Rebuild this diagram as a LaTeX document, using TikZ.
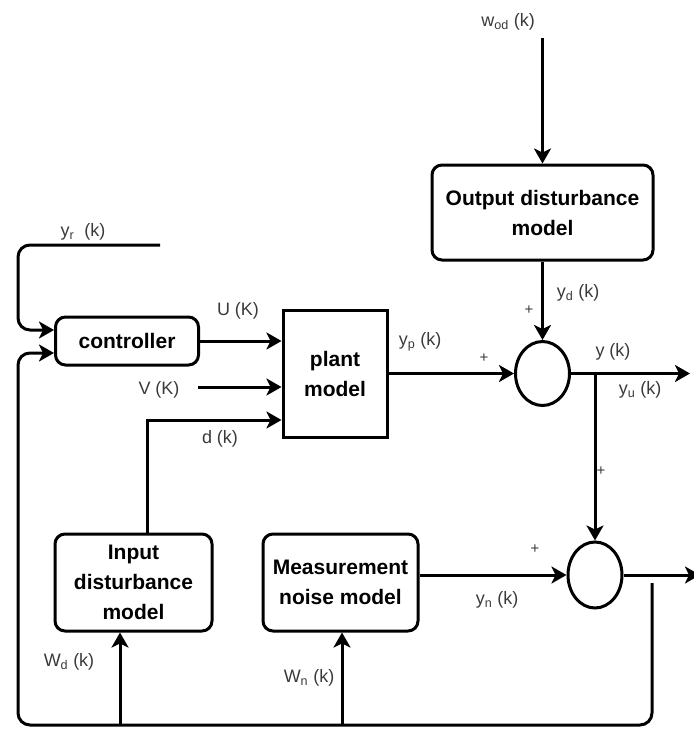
\documentclass[tikz,border=0pt]{standalone}
\usepackage{fontspec}
\setmainfont{Liberation Sans}
\usetikzlibrary{arrows.meta, calc, positioning, shapes.geometric}
\definecolor{LabelGray}{HTML}{3A3A3A}

\begin{document}
\begin{tikzpicture}[x=1pt, y=-1pt, >={Stealth[length=15pt, width=17pt, inset=4pt]}, line width=3pt,
  block/.style={draw, rounded corners=10pt, align=center, inner sep=0pt,
    font=\fontsize{21}{30}\selectfont\bfseries},
  sumnode/.style={draw, ellipse, minimum width=54pt, minimum height=64pt, inner sep=0pt},
  lbl/.style={font=\fontsize{18}{20}\selectfont, text=LabelGray, inner sep=0pt},
  plus/.style={font=\fontsize{15}{15}\selectfont, text=LabelGray, inner sep=0pt}]
  \useasboundingbox (0,0) rectangle (694,729);

  % blocks
  \node[block, minimum width=143pt, minimum height=48pt] (ctrl) at (127,341) {controller};
  \node[block, rounded corners=0pt, minimum width=104pt, minimum height=127pt] (plant) at (335,373.5) {plant\\model};
  \node[block, minimum width=221pt, minimum height=95pt] (odist) at (542.5,212.5) {Output disturbance\\model};
  \node[block, minimum width=157pt, minimum height=97pt] (idist) at (133.5,582.5) {Input\\disturbance\\model};
  \node[block, minimum width=155pt, minimum height=97pt] (mnoise) at (340.5,582.5) {Measurement\\noise model};
  \node[sumnode] (sum1) at (542.5,373.5) {};
  \node[sumnode, minimum height=66pt] (sum2) at (595,575) {};

  % free ends
  \coordinate (wod) at (542.5,38);
  \coordinate (yr) at (160,245);
  \coordinate (vin) at (198,387);
  \coordinate (yout) at (690,373.5);
  \coordinate (br) at (595,373.5);
  \coordinate (yend) at (700,575);
  \coordinate (fb) at (652,583);
  \coordinate (wd) at (120,725);
  \coordinate (wn) at (342,725);

  % signals
  \draw[->] (wod) -- (odist.north);
  \draw[->] (odist.south) -- (sum1.north);
  \draw[->] (plant.east) -- (sum1.west);
  \draw[->] (sum1.east) -- (yout);
  \draw[->] (br) -- (sum2.north);
  \draw[->] (mnoise.east |- sum2.west) -- (sum2.west);
  \draw[->] (sum2.east) -- (yend);
  \draw[->] (ctrl.east) -- (ctrl.east -| plant.west);
  \draw[->] (vin) -- (vin -| plant.west);
  \draw[->] ([xshift=14pt]idist.north) |- ([yshift=-46.5pt]plant.west);
  \draw[->, rounded corners=12pt] (yr) -- (18,245) -- (18,330) -- ([yshift=11pt]ctrl.west);
  \draw[->, rounded corners=12pt] (fb) -- (652,725) -- (18,725) -- (18,353) -- ([yshift=-12pt]ctrl.west);
  \draw[->] (wd) -- (wd |- idist.south);
  \draw[->] (wn) -- (wn |- mnoise.south);

  % labels
  \node[lbl] (lwod) at (508,22) {w\textsubscript{od} (k)};
  \node[lbl] (lyr) at (83,232) {y\textsubscript{r}\ \ (k)};
  \node[lbl] (lu) at (238,311) {U (K)};
  \node[lbl] (lv) at (159,390) {V (K)};
  \node[lbl] (ld) at (220,439) {d (k)};
  \node[lbl] (lyp) at (420,342) {y\textsubscript{p} (k)};
  \node[lbl] (lyd) at (578,293) {y\textsubscript{d} (k)};
  \node[lbl] (ly) at (613,352) {y (k)};
  \node[lbl] (lyu) at (640,390) {y\textsubscript{u} (k)};
  \node[lbl] (lyn) at (497,600) {y\textsubscript{n} (k)};
  \node[lbl] (lwd) at (69,662) {W\textsubscript{d} (k)};
  \node[lbl] (lwn) at (309,678) {W\textsubscript{n} (k)};
  \node[plus] (p1) at (484,358) {+};
  \node[plus] (p2) at (529,310) {+};
  \node[plus] (p3) at (601,471) {+};
  \node[plus] (p4) at (535,549) {+};
\end{tikzpicture}
\end{document}
